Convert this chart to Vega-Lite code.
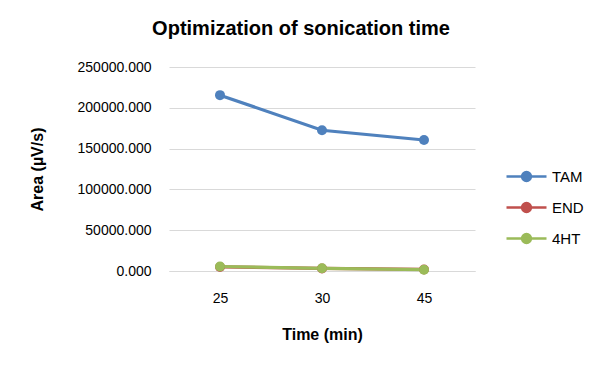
{
  "$schema": "https://vega.github.io/schema/vega-lite/v6.json",
  "width": 306,
  "height": 204,
  "autosize": {"type": "none"},
  "padding": {"left": 169, "top": 67, "right": 137, "bottom": 101},
  "background": "white",
  "title": {
    "text": "Optimization of sonication time",
    "font": "Liberation Sans",
    "fontSize": 20,
    "fontWeight": "bold",
    "color": "#000000",
    "anchor": "middle",
    "dx": -21,
    "offset": 21
  },
  "data": {
    "values": [
      {"time": "25", "series": "TAM", "area": 215500},
      {"time": "30", "series": "TAM", "area": 172500},
      {"time": "45", "series": "TAM", "area": 160500},
      {"time": "25", "series": "END", "area": 5000},
      {"time": "30", "series": "END", "area": 3100},
      {"time": "45", "series": "END", "area": 1900},
      {"time": "25", "series": "4HT", "area": 5500},
      {"time": "30", "series": "4HT", "area": 3300},
      {"time": "45", "series": "4HT", "area": 1600}
    ]
  },
  "mark": {"type": "line", "strokeWidth": 3.2, "point": {"filled": true, "size": 100}},
  "encoding": {
    "x": {
      "field": "time",
      "type": "ordinal",
      "sort": ["25", "30", "45"],
      "scale": {"type": "point", "padding": 0.5},
      "axis": {
        "title": "Time (min)",
        "labelAngle": 0,
        "labelFont": "Liberation Sans",
        "labelFontSize": 14,
        "labelColor": "#000000",
        "labelPadding": 20,
        "titleFont": "Liberation Sans",
        "titleFontSize": 16,
        "titleFontWeight": "bold",
        "titleColor": "#000000",
        "titlePadding": 21,
        "ticks": false,
        "domainColor": "#d9d9d9",
        "domainWidth": 1,
        "grid": false
      }
    },
    "y": {
      "field": "area",
      "type": "quantitative",
      "scale": {"domain": [0, 250000], "nice": false},
      "axis": {
        "title": "Area (µV/s)",
        "values": [0, 50000, 100000, 150000, 200000, 250000],
        "format": ".3f",
        "labelFont": "Liberation Sans",
        "labelFontSize": 14,
        "labelColor": "#000000",
        "labelPadding": 18,
        "titleFont": "Liberation Sans",
        "titleFontSize": 16,
        "titleFontWeight": "bold",
        "titleColor": "#000000",
        "titlePadding": 32,
        "ticks": false,
        "domain": false,
        "gridColor": "#d9d9d9",
        "gridWidth": 1
      }
    },
    "color": {
      "field": "series",
      "type": "nominal",
      "sort": ["TAM", "END", "4HT"],
      "scale": {"domain": ["TAM", "END", "4HT"], "range": ["#4F81BD", "#C0504D", "#9BBB59"]},
      "legend": {
        "title": null,
        "orient": "none",
        "legendX": 336,
        "legendY": 88,
        "symbolType": "M-1,0H1M-0.22,0A0.22,0.22 0 1,1 0.22,0A0.22,0.22 0 1,1 -0.22,0Z",
        "symbolSize": 1600,
        "symbolStrokeWidth": 2.5,
        "labelFont": "Liberation Sans",
        "labelFontSize": 15,
        "labelColor": "#000000",
        "labelOffset": 4,
        "rowPadding": -5,
        "encode": {
          "symbols": {"update": {"fill": {"scale": "color", "field": "value"}, "stroke": {"scale": "color", "field": "value"}, "opacity": {"value": 1}}}
        }
      }
    }
  },
  "config": {"view": {"stroke": null}}
}
